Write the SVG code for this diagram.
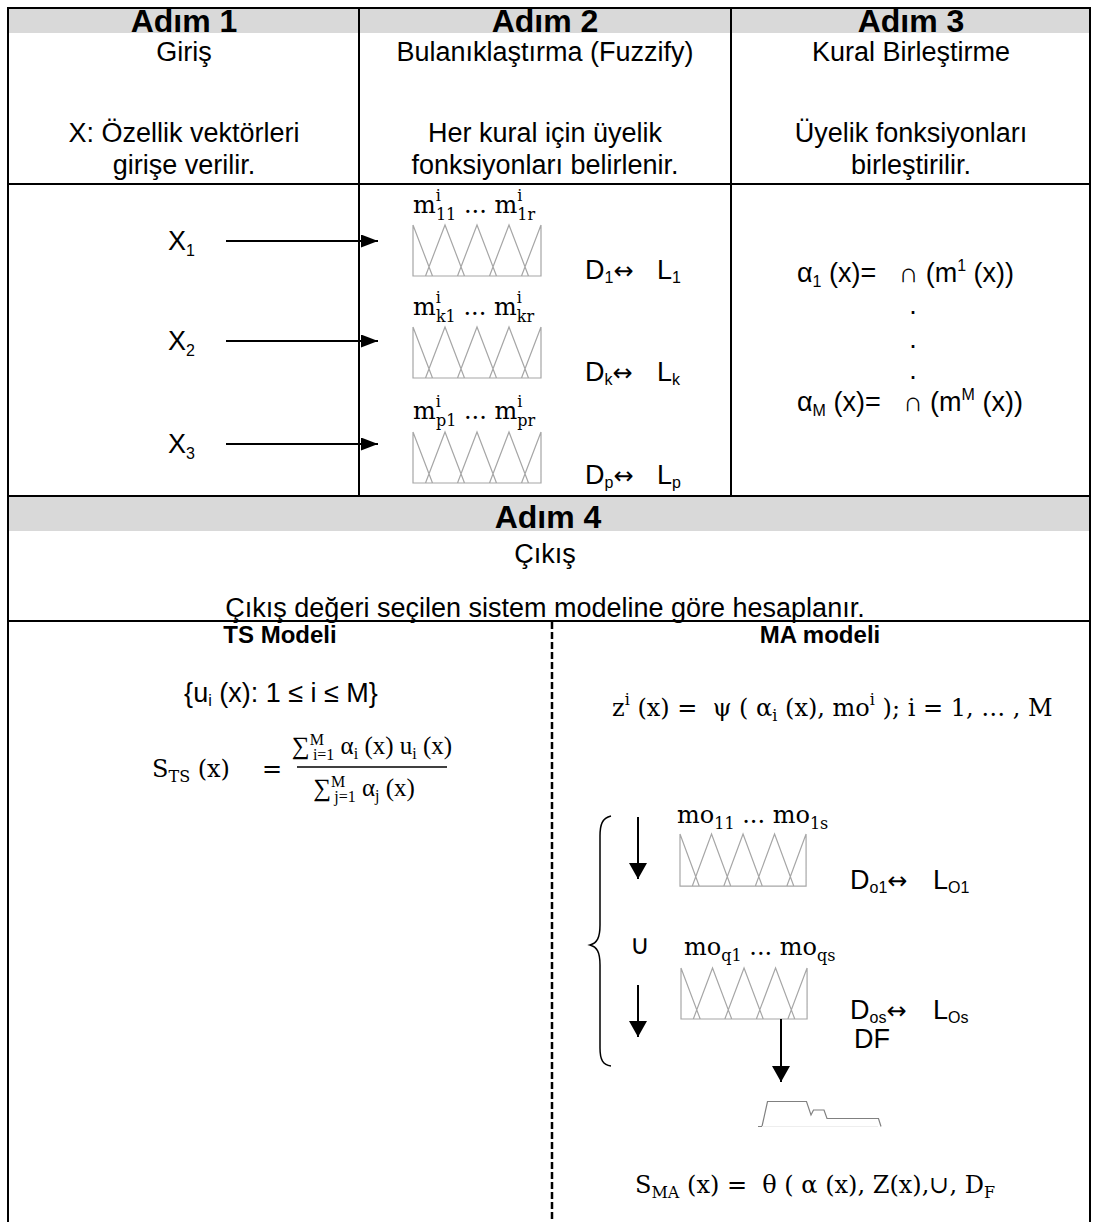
<svg xmlns="http://www.w3.org/2000/svg" width="1096" height="1222" viewBox="0 0 1096 1222">
<defs>
<style>
.s{font-family:"Liberation Sans",Arial,sans-serif;font-size:27px;fill:#000;white-space:pre}
.h{font-family:"Liberation Sans",Arial,sans-serif;font-size:32px;font-weight:bold;fill:#000;text-anchor:middle}
.hb{font-family:"Liberation Sans",Arial,sans-serif;font-size:24px;font-weight:bold;fill:#000;text-anchor:middle}
.c{text-anchor:middle}
.m{font-family:"DejaVu Serif","Liberation Serif",serif;font-size:24px;fill:#000;white-space:pre}
.f{font-family:"Liberation Serif","Times New Roman",serif;font-size:25px;fill:#000;white-space:pre}
.sm{font-size:16px}
.ar{font-family:"DejaVu Sans",sans-serif;font-size:24px}
.grid{stroke:#000;stroke-width:2;fill:none}
.band{fill:#d9d9d9}
.mf{stroke:#a6a6a6;stroke-width:1.2;fill:none}
.arr{stroke:#000;stroke-width:2;fill:none;marker-end:url(#ah)}
.arrd{stroke:#000;stroke-width:2;fill:none;marker-end:url(#ahd)}
</style>
<marker id="ah" markerWidth="17" markerHeight="13" refX="17" refY="6.5" orient="auto" markerUnits="userSpaceOnUse"><path d="M0,0 L17,6.5 L0,13 z" fill="#000"/></marker>
<marker id="ahd" markerWidth="16" markerHeight="18" refX="16" refY="9" orient="auto" markerUnits="userSpaceOnUse"><path d="M0,0 L16,9 L0,18 z" fill="#000"/></marker>
<g id="mfshape">
<path class="mf" d="M0,0 V51 H128 V0 M0,0 L19.5,51 M12.5,51 L32,0 L51.5,51 M44.5,51 L64,0 L83.5,51 M76.5,51 L96,0 L115.5,51 M108.5,51 L128,0"/>
</g>
</defs>
<rect width="1096" height="1222" fill="#fff"/>
<g id="table">
<rect class="band" x="9" y="9" width="1080" height="24"/>
<rect class="band" x="9" y="496" width="1080" height="35"/>
<path class="grid" d="M8,8 H1090 M8,7 V1222 M1090,7 V1222 M8,184 H1090 M359,8 V496 M731,8 V496 M8,496 H1090 M8,621 H1090"/>
<path d="M552,622 V1222" stroke="#000" stroke-width="2.5" stroke-dasharray="7 3" fill="none"/>
</g>
<g id="step1">
<text class="h" x="184" y="32">Adım 1</text>
<text class="s c" x="184" y="61">Giriş</text>
<text class="s c" x="184" y="142">X: Özellik vektörleri</text>
<text class="s c" x="184" y="174">girişe verilir.</text>
<text class="s" x="168" y="250">X<tspan class="sm" dy="6">1</tspan></text>
<text class="s" x="168" y="350">X<tspan class="sm" dy="6">2</tspan></text>
<text class="s" x="168" y="453">X<tspan class="sm" dy="6">3</tspan></text>
</g>
<g id="step2">
<text class="h" x="545" y="32">Adım 2</text>
<text class="s c" x="545" y="61">Bulanıklaştırma (Fuzzify)</text>
<text class="s c" x="545" y="142">Her kural için üyelik</text>
<text class="s c" x="545" y="174">fonksiyonları belirlenir.</text>
<g id="mf1">
<use href="#mfshape" x="413" y="225"/>
<text class="m" x="413" y="213">m<tspan class="sm" dy="-12">i</tspan><tspan class="sm" dx="-5" dy="19">11</tspan><tspan dy="-7"> ... m</tspan><tspan class="sm" dy="-12">i</tspan><tspan class="sm" dx="-5" dy="19">1r</tspan></text>
<text class="s" x="585" y="279">D<tspan class="sm" dy="4">1</tspan><tspan class="ar" dy="-4">↔</tspan></text>
<text class="s" x="657" y="279">L<tspan class="sm" dy="4">1</tspan></text>
</g>
<g id="mf2">
<use href="#mfshape" x="413" y="327"/>
<text class="m" x="413" y="315">m<tspan class="sm" dy="-12">i</tspan><tspan class="sm" dx="-5" dy="19">k1</tspan><tspan dy="-7"> ... m</tspan><tspan class="sm" dy="-12">i</tspan><tspan class="sm" dx="-5" dy="19">kr</tspan></text>
<text class="s" x="585" y="381">D<tspan class="sm" dy="4">k</tspan><tspan class="ar" dy="-4">↔</tspan></text>
<text class="s" x="657" y="381">L<tspan class="sm" dy="4">k</tspan></text>
</g>
<g id="mf3">
<use href="#mfshape" x="413" y="432"/>
<text class="m" x="413" y="419">m<tspan class="sm" dy="-12">i</tspan><tspan class="sm" dx="-5" dy="19">p1</tspan><tspan dy="-7"> ... m</tspan><tspan class="sm" dy="-12">i</tspan><tspan class="sm" dx="-5" dy="19">pr</tspan></text>
<text class="s" x="585" y="484">D<tspan class="sm" dy="4">p</tspan><tspan class="ar" dy="-4">↔</tspan></text>
<text class="s" x="657" y="484">L<tspan class="sm" dy="4">p</tspan></text>
</g>
</g>
<g id="step3">
<text class="h" x="911" y="32">Adım 3</text>
<text class="s c" x="911" y="61">Kural Birleştirme</text>
<text class="s c" x="911" y="142">Üyelik fonksiyonları</text>
<text class="s c" x="911" y="174">birleştirilir.</text>
<text class="s" x="797" y="282" font-size="28">α<tspan class="sm" dy="5">1</tspan><tspan dy="-5"> (x)=   ∩ (m</tspan><tspan class="sm" dy="-11">1</tspan><tspan dy="11"> (x))</tspan></text>
<text class="s c" x="913" y="314">.</text>
<text class="s c" x="913" y="348">.</text>
<text class="s c" x="913" y="379">.</text>
<text class="s" x="797" y="411" font-size="28">α<tspan class="sm" dy="5">M</tspan><tspan dy="-5"> (x)=   ∩ (m</tspan><tspan class="sm" dy="-11">M</tspan><tspan dy="11"> (x))</tspan></text>
</g>
<g id="step4">
<text class="h" x="548" y="528">Adım 4</text>
<text class="s c" x="545" y="563">Çıkış</text>
<text class="s c" x="545" y="617">Çıkış değeri seçilen sistem modeline göre hesaplanır.</text>
</g>
<g id="ts">
<text class="hb" x="280" y="643">TS Modeli</text>
<text class="s c" x="281" y="702">{u<tspan class="sm" dy="4">i</tspan><tspan dy="-4"> (x): 1 ≤ i ≤ M}</tspan></text>
<text class="m" x="152" y="777">S<tspan class="sm" dy="5">TS</tspan><tspan dy="-5"> (x)</tspan></text>
<text class="m" x="262" y="777">=</text>
<path d="M297,767 H447" stroke="#000" stroke-width="1.3"/>
<text class="f c" x="372" y="754">∑<tspan class="sm" dy="-9">M</tspan><tspan class="sm" dx="-11" dy="15">i=1</tspan><tspan dy="-6"> α</tspan><tspan class="sm" dy="5">i</tspan><tspan dy="-5"> (x) u</tspan><tspan class="sm" dy="5">i</tspan><tspan dy="-5"> (x)</tspan></text>
<text class="f c" x="364" y="796">∑<tspan class="sm" dy="-9">M</tspan><tspan class="sm" dx="-11" dy="15">j=1</tspan><tspan dy="-6"> α</tspan><tspan class="sm" dy="5">j</tspan><tspan dy="-5"> (x)</tspan></text>
</g>
<g id="ma">
<text class="hb" x="820" y="643">MA modeli</text>
<text class="m" x="612" y="716">z<tspan class="sm" dy="-11">i</tspan><tspan dy="11"> (x) =  ψ ( α</tspan><tspan class="sm" dy="5">i</tspan><tspan dy="-5"> (x), mo</tspan><tspan class="sm" dy="-11">i</tspan><tspan dy="11"> ); i = 1, … , M</tspan></text>
<path d="M611,816 C602,818 600,825 600,836 V925 C600,938 597,943 590,945 C597,947 600,952 600,965 V1048 C600,1060 603,1065 611,1066" stroke="#000" stroke-width="1.5" fill="none"/>
<text class="s c" x="640" y="954">∪</text>
<g id="mfo1">
<use href="#mfshape" transform="translate(680,834) scale(0.985,1.02)"/>
<text class="m" x="677" y="823">mo<tspan class="sm" dy="6">11</tspan><tspan dy="-6"> ... mo</tspan><tspan class="sm" dy="6">1s</tspan></text>
<text class="s" x="850" y="889">D<tspan class="sm" dy="4">o1</tspan><tspan class="ar" dy="-4">↔</tspan></text>
<text class="s" x="933" y="889">L<tspan class="sm" dy="4">O1</tspan></text>
</g>
<g id="mfo2">
<use href="#mfshape" transform="translate(681,968) scale(0.985,1)"/>
<text class="m" x="684" y="955">mo<tspan class="sm" dy="6">q1</tspan><tspan dy="-6"> ... mo</tspan><tspan class="sm" dy="6">qs</tspan></text>
<text class="s" x="850" y="1019">D<tspan class="sm" dy="4">os</tspan><tspan class="ar" dy="-4">↔</tspan></text>
<text class="s" x="933" y="1019">L<tspan class="sm" dy="4">Os</tspan></text>
<text class="s" x="854" y="1048">DF</text>
</g>
<g id="output">
<path d="M758,1126.5 H762 L767.5,1101.5 H806.5 L811,1115 L813.5,1110 H824 L827,1118.5 H878.5 L881,1126.5" stroke="#808080" stroke-width="1.2" fill="none"/>
<path d="M762,1126.5 H878" stroke="#eeeeee" stroke-width="1" fill="none"/>
</g>
<text class="m" x="635" y="1193" font-size="26">S<tspan class="sm" dy="5">MA</tspan><tspan dy="-5"> (x) =  θ ( α (x), Z(x),∪, D</tspan><tspan class="sm" dy="5">F</tspan></text>
</g>
<g id="connectors">
<path class="arr" d="M226,241 H378"/>
<path class="arr" d="M226,341 H378"/>
<path class="arr" d="M226,444 H378"/>
<path class="arrd" d="M638,817 V879"/>
<path class="arrd" d="M638,985 V1037"/>
<path class="arrd" d="M781,1019 V1082"/>
</g>
</svg>
